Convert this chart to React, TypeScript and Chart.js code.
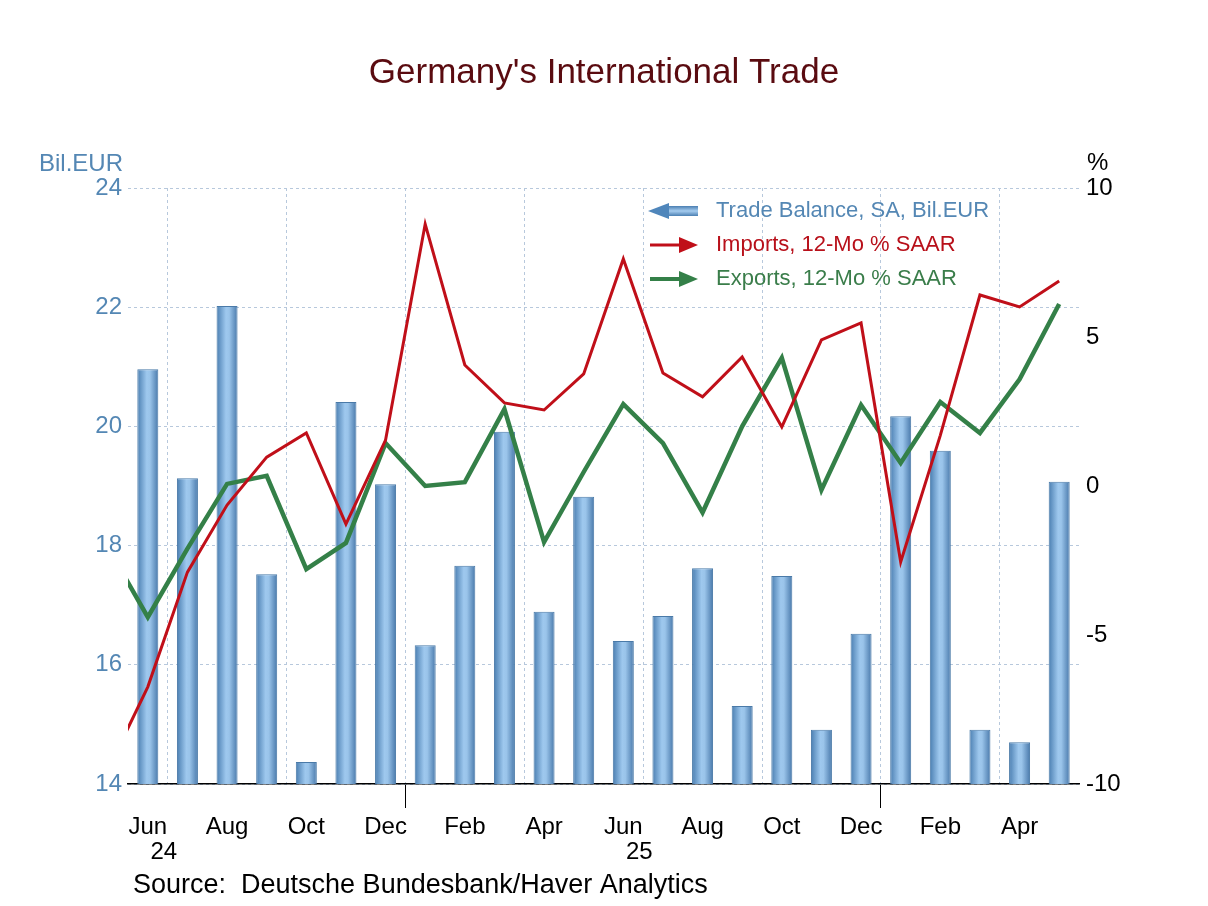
import React, { useEffect, useRef } from 'react';
import { Chart, registerables } from 'chart.js';

Chart.register(...registerables);

const TITLE = "Germany's International Trade";
const SOURCE = 'Source:  Deutsche Bundesbank/Haver Analytics';
const LEFT_UNIT = 'Bil.EUR';
const RIGHT_UNIT = '%';

const monthLabels = ['Jun', 'Jul', 'Aug', 'Sep', 'Oct', 'Nov', 'Dec', 'Jan', 'Feb', 'Mar', 'Apr', 'May',
  'Jun', 'Jul', 'Aug', 'Sep', 'Oct', 'Nov', 'Dec', 'Jan', 'Feb', 'Mar', 'Apr', 'May'];
const yearLabels = ['24', '25'];
const yearLabelMonthIndex = [0, 12];

const tradeBalance = [20.96, 19.13, 22.02, 17.52, 14.37, 20.41, 19.03, 16.33, 17.66, 19.91, 16.89, 18.82,
  16.40, 16.82, 17.62, 15.31, 17.49, 14.91, 16.52, 20.17, 19.59, 14.91, 14.70, 19.07];

// value of the month before the first label (line enters from the left edge)
const importsPrev = -9.5;
const importsPct = [-6.74, -2.89, -0.64, 0.97, 1.78, -1.28, 1.54, 8.79, 4.06, 2.79, 2.55, 3.76,
  7.62, 3.79, 2.99, 4.33, 1.98, 4.90, 5.47, -2.55, 1.70, 6.41, 6.01, 6.88];

const exportsPrev = -2.08;
const exportsPct = [-4.40, -2.10, 0.07, 0.34, -2.79, -1.91, 1.44, 0.0, 0.13, 2.58, -1.88, 0.47,
  2.75, 1.44, -0.89, 2.00, 4.30, -0.13, 2.72, 0.77, 2.82, 1.78, 3.58, 6.11];

const leftTicks = [14, 16, 18, 20, 22, 24];
const rightTicks = [-10, -5, 0, 5, 10];

const legendItems = [
  { text: 'Trade Balance, SA, Bil.EUR', color: '#5487b4', kind: 'bar' },
  { text: 'Imports, 12-Mo % SAAR', color: '#b8101a', kind: 'line' },
  { text: 'Exports, 12-Mo % SAAR', color: '#3a7d4a', kind: 'line' },
];

const BLUE_TEXT = '#5487b4';
const RED = '#c00f19';
const GREEN = '#348048';
const GRID = '#b7c8dc';
const FONT = '"Liberation Sans", Arial, Helvetica, sans-serif';
const BAR_PCT = 0.53;

const quarterStartMonths = ['Jul', 'Oct', 'Jan', 'Apr'];
const quarterBoundaries = monthLabels
  .map((m, i) => (i > 0 && quarterStartMonths.includes(m) ? i - 0.5 : null))
  .filter((v) => v !== null) as number[];
const yearBoundaries = monthLabels
  .map((m, i) => (i > 0 && m === 'Jan' ? i - 0.5 : null))
  .filter((v) => v !== null) as number[];

const overlayPlugin = {
  id: 'overlay',
  afterDraw(chart: any) {
    const c = chart.ctx as CanvasRenderingContext2D;
    const xs = chart.scales.x;
    const area = chart.chartArea;
    c.save();
    // title
    c.font = `35px ${FONT}`;
    c.fillStyle = '#5a0b10';
    c.textAlign = 'center';
    c.textBaseline = 'middle';
    c.fillText(TITLE, chart.width / 2, 73);

    // units
    c.font = `24px ${FONT}`;
    c.fillStyle = BLUE_TEXT;
    c.textAlign = 'right';
    c.fillText(LEFT_UNIT, area.left - 5, area.top - 24);
    c.fillStyle = '#000';
    c.textAlign = 'left';
    c.fillText(RIGHT_UNIT, area.right + 8, area.top - 25);

    // year labels
    c.textAlign = 'center';
    c.fillStyle = '#000';
    yearLabels.forEach((t, k) => {
      c.fillText(t, xs.getPixelForValue(yearLabelMonthIndex[k]) + 16, area.bottom + 68);
    });

    // source
    c.font = `27px ${FONT}`;
    c.textAlign = 'left';
    c.fillText(SOURCE, 133, 886);

    // legend
    const lx0 = 648;
    const lx1 = 698;
    const tx = 716;
    const y0 = 211;
    const dy = 34;
    c.font = `22px ${FONT}`;
    c.textBaseline = 'middle';
    legendItems.forEach((item, k) => {
      const y = y0 + k * dy;
      if (item.kind === 'bar') {
        const g = c.createLinearGradient(0, y - 5, 0, y + 5);
        g.addColorStop(0, '#4b7fb2');
        g.addColorStop(0.5, '#a5ccef');
        g.addColorStop(1, '#4b7fb2');
        c.fillStyle = g;
        c.fillRect(lx0 + 20, y - 5, lx1 - lx0 - 20, 10);
        c.fillStyle = '#4f86bb';
        c.beginPath();
        c.moveTo(lx0, y);
        c.lineTo(lx0 + 21, y - 8);
        c.lineTo(lx0 + 21, y + 8);
        c.closePath();
        c.fill();
      } else {
        const col = k === 1 ? RED : GREEN;
        c.strokeStyle = col;
        c.lineWidth = k === 1 ? 3 : 4;
        c.beginPath();
        c.moveTo(lx0 + 2, y);
        c.lineTo(lx1 - 16, y);
        c.stroke();
        c.fillStyle = col;
        c.beginPath();
        c.moveTo(lx1, y);
        c.lineTo(lx1 - 19, y - 8);
        c.lineTo(lx1 - 19, y + 8);
        c.closePath();
        c.fill();
      }
      c.fillStyle = item.color;
      c.textAlign = 'left';
      c.fillText(item.text, tx, y);
    });
    c.restore();
  },
};

function barGradient(ctx: any) {
  const chart = ctx.chart;
  const xs = chart.scales && chart.scales.x;
  if (!xs || ctx.type !== 'data' || !chart.chartArea) return '#6fa3d4';
  const xv = ctx.parsed ? ctx.parsed.x : ctx.dataIndex;
  const cx = xs.getPixelForValue(xv);
  const w = (xs.getPixelForValue(1) - xs.getPixelForValue(0)) * BAR_PCT;
  const g = chart.ctx.createLinearGradient(cx - w / 2, 0, cx + w / 2, 0);
  g.addColorStop(0, '#4a7eb1');
  g.addColorStop(0.45, '#9ec8ee');
  g.addColorStop(0.6, '#9ac4ea');
  g.addColorStop(1, '#4979ab');
  return g;
}

export default function App() {
  const ref = useRef<HTMLCanvasElement | null>(null);

  useEffect(() => {
    if (!ref.current) return;
    const chart = new Chart(ref.current, {
      type: 'bar',
      data: {
        datasets: [
          {
            type: 'line',
            label: 'Imports, 12-Mo % SAAR',
            data: [{ x: -1, y: importsPrev }, ...importsPct.map((v, i) => ({ x: i, y: v }))],
            borderColor: RED,
            borderWidth: 3,
            pointRadius: 0,
            tension: 0,
            xAxisID: 'x',
            yAxisID: 'y1',
            order: 0,
          } as any,
          {
            type: 'line',
            label: 'Exports, 12-Mo % SAAR',
            data: [{ x: -1, y: exportsPrev }, ...exportsPct.map((v, i) => ({ x: i, y: v }))],
            borderColor: GREEN,
            borderWidth: 4.5,
            pointRadius: 0,
            tension: 0,
            xAxisID: 'x',
            yAxisID: 'y1',
            order: 1,
          } as any,
          {
            type: 'bar',
            label: 'Trade Balance, SA, Bil.EUR',
            data: tradeBalance.map((v, i) => ({ x: i, y: v })),
            backgroundColor: barGradient,
            borderColor: '#4a7aa8',
            borderWidth: 1,
            barPercentage: BAR_PCT,
            categoryPercentage: 1,
            xAxisID: 'x',
            yAxisID: 'y',
            order: 2,
          } as any,
        ],
      },
      options: {
        animation: false,
        responsive: true,
        maintainAspectRatio: false,
        layout: { padding: { top: 188, left: 0, right: 0, bottom: 0 } },
        plugins: {
          legend: { display: false },
          tooltip: { enabled: false },
          title: { display: false },
        },
        scales: {
          xg: {
            type: 'linear',
            position: 'bottom',
            weight: 0,
            offset: false,
            min: -0.5,
            max: monthLabels.length - 0.5,
            afterBuildTicks: (scale: any) => {
              scale.ticks = quarterBoundaries.map((v) => ({ value: v }));
            },
            afterFit: (scale: any) => {
              scale.height = 0;
            },
            ticks: { display: false },
            grid: {
              display: true,
              offset: false,
              color: GRID,
              lineWidth: 1,
              drawTicks: true,
              tickLength: 24,
              tickWidth: 1,
              tickColor: (ctx: any) =>
                ctx.tick && yearBoundaries.includes(ctx.tick.value) ? '#000' : 'rgba(0,0,0,0)',
            },
            border: { display: false, dash: [3, 3] },
          },
          x: {
            type: 'linear',
            position: 'bottom',
            weight: 1,
            offset: false,
            min: -0.5,
            max: monthLabels.length - 0.5,
            afterBuildTicks: (scale: any) => {
              scale.ticks = monthLabels
                .map((_, i) => i)
                .filter((i) => i % 2 === 0)
                .map((v) => ({ value: v }));
            },
            afterFit: (scale: any) => {
              scale.height = 122;
            },
            ticks: {
              autoSkip: false,
              maxRotation: 0,
              padding: 29,
              color: '#000',
              font: { family: FONT, size: 24 },
              callback: (v: any) => monthLabels[Number(v)] ?? '',
            },
            grid: { display: false, drawTicks: false, offset: false },
            border: { display: true, color: '#000', width: 1.5 },
          },
          y: {
            type: 'linear',
            position: 'left',
            min: leftTicks[0],
            max: leftTicks[leftTicks.length - 1],
            afterBuildTicks: (scale: any) => {
              scale.ticks = leftTicks.map((v) => ({ value: v }));
            },
            afterFit: (scale: any) => {
              scale.width = 128;
            },
            ticks: {
              padding: 6,
              color: BLUE_TEXT,
              font: { family: FONT, size: 24 },
            },
            grid: { display: true, color: GRID, lineWidth: 1, drawTicks: false },
            border: { display: false, dash: [3, 3] },
          },
          y1: {
            type: 'linear',
            position: 'right',
            min: rightTicks[0],
            max: rightTicks[rightTicks.length - 1],
            afterBuildTicks: (scale: any) => {
              scale.ticks = rightTicks.map((v) => ({ value: v }));
            },
            afterFit: (scale: any) => {
              scale.width = 129;
            },
            ticks: {
              padding: 7,
              color: '#000',
              font: { family: FONT, size: 24 },
            },
            grid: { display: false, drawTicks: false },
            border: { display: false },
          },
        },
      } as any,
      plugins: [overlayPlugin],
    });
    return () => chart.destroy();
  }, []);

  return (
    <div style={{ position: 'absolute', left: 0, top: 0, width: 1208, height: 906, background: '#fff' }}>
      <canvas ref={ref} />
    </div>
  );
}
